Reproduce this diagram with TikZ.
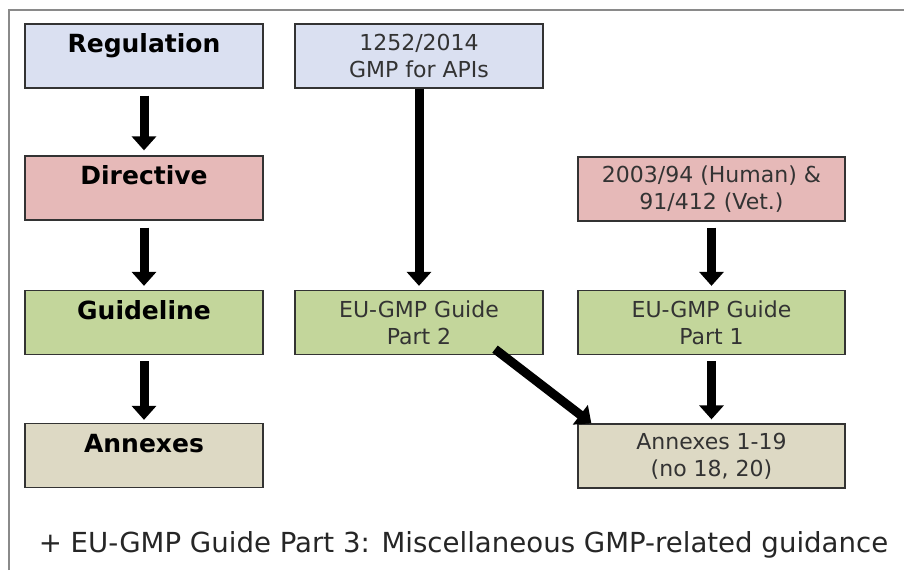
\documentclass[tikz,border=0pt]{standalone}
\usepackage{fontspec}
\setmainfont{DejaVu Sans}
\usetikzlibrary{arrows.meta}
\definecolor{regblue}{HTML}{DAE0F1}
\definecolor{dirred}{HTML}{E6B9B8}
\definecolor{guigreen}{HTML}{C3D69B}
\definecolor{anntan}{HTML}{DDD9C4}
\definecolor{framegray}{HTML}{8A8A8A}
\tikzset{
  box/.style={draw=black!80, line width=1.3pt, align=center, inner sep=0pt,
    minimum height=64pt},
  levelbox/.style={box, minimum width=238pt, font=\fontsize{25}{25}\selectfont\bfseries},
  midbox/.style={box, minimum width=248pt, text=black!80, font=\fontsize{22}{27}\selectfont},
  rightbox/.style={box, minimum width=267pt, text=black!80, font=\fontsize{22}{27}\selectfont},
  flow/.style={line width=9pt, -{Triangle[width=24pt,length=14pt]}}
}
\begin{document}
\begin{tikzpicture}[x=1pt, y=-1pt]
  \useasboundingbox (0,0) rectangle (904,570);
  % frame
  \draw[framegray, line width=2pt] (9,570) -- (9,10) -- (904,10);
  % levels (left column)
  \node[levelbox, fill=regblue]   (reg) at (144,56)    {Regulation\\\mbox{}};
  \node[levelbox, fill=dirred]    (dir) at (144,188)   {Directive\\\mbox{}};
  \node[levelbox, fill=guigreen]  (gui) at (144,322.5) {Guideline\\\mbox{}};
  \node[levelbox, fill=anntan]    (ann) at (144,455.5) {Annexes\\\mbox{}};
  % APIs (middle column)
  \node[midbox, fill=regblue]   (api)   at (419,56)    {1252/2014\\GMP for APIs};
  \node[midbox, fill=guigreen]  (part2) at (419,322.5) {EU-GMP Guide\\Part 2};
  % medicinal products (right column)
  \node[rightbox, fill=dirred]   (hum)   at (711.5,189)   {2003/94 (Human) \&\\91/412 (Vet.)};
  \node[rightbox, fill=guigreen] (part1) at (711.5,322.5) {EU-GMP Guide\\Part 1};
  \node[rightbox, fill=anntan]   (annx)  at (711.5,456)   {Annexes 1-19\\(no 18, 20)};
  % arrows
  \draw[flow] ([yshift=-7pt]reg.south) -- ([yshift=5pt]dir.north);
  \draw[flow] ([yshift=-7pt]dir.south) -- ([yshift=4pt]gui.north);
  \draw[flow] ([yshift=-6pt]gui.south) -- ([yshift=3pt]ann.north);
  \draw[flow] (api.south) -- ([yshift=4pt]part2.north);
  \draw[flow] ([yshift=-6pt]hum.south) -- ([yshift=4pt]part1.north);
  \draw[flow] ([yshift=-6pt]part1.south) -- ([yshift=4pt]annx.north);
  \draw[flow] ([shift={(76,-6)}]part2.south) -- ([xshift=14pt]annx.north west);
  % footnote
  \node[font=\fontsize{27.6}{32}\selectfont, text=black!85] (part3) at (463.5,545)
    {+ EU-GMP Guide Part 3: Miscellaneous GMP-related guidance};
\end{tikzpicture}
\end{document}
